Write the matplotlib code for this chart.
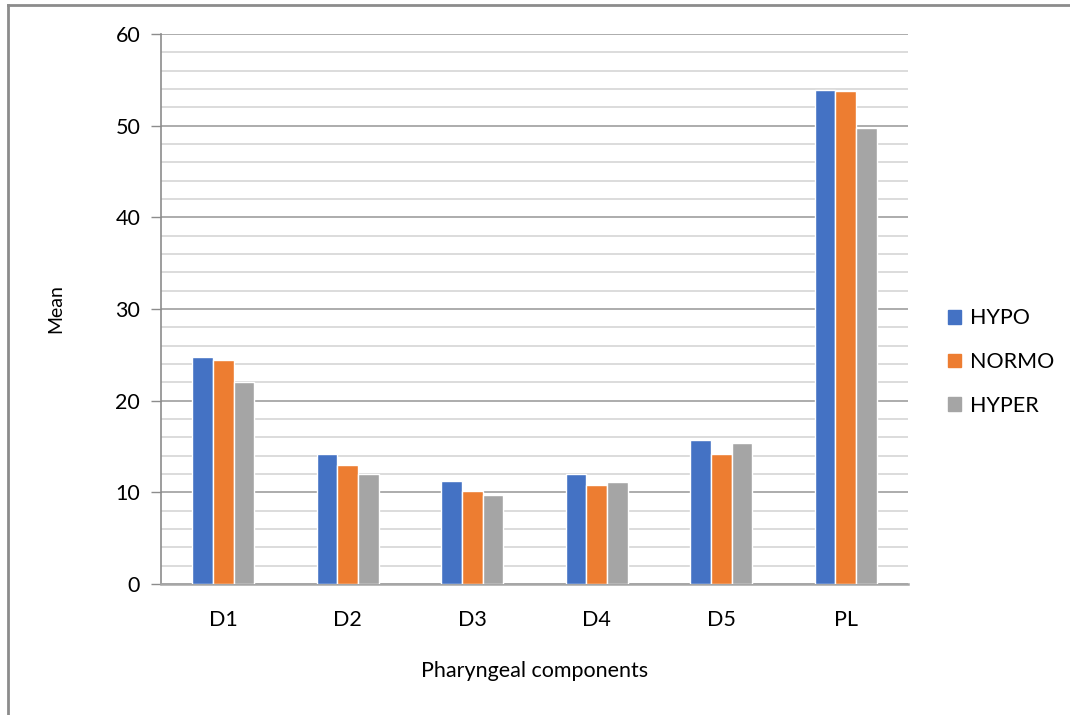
import numpy as np
import matplotlib.pyplot as plt
import matplotlib.patches as mpatches
from matplotlib.ticker import MultipleLocator

## data
categories = ["D1", "D2", "D3", "D4", "D5", "PL"]
hypo = [24.8, 14.2, 11.2, 12.0, 15.7, 53.9]
normo = [24.4, 13.0, 10.1, 10.8, 14.2, 53.8]
hyper = [22.0, 12.0, 9.7, 11.1, 15.4, 49.8]
series_names = ["HYPO", "NORMO", "HYPER"]
colors = ["#4472C4", "#ED7D31", "#A5A5A5"]

plt.rcParams['font.family'] = ['Lato', 'DejaVu Sans']

fig = plt.figure(figsize=(10.7, 7.15), dpi=100)
ax = fig.add_axes([161 / 1070, 1 - 584 / 715, (908 - 161) / 1070, (584 - 34) / 715])

# outer chart frame (top and left edges visible)
fig.add_artist(plt.Line2D([8 / 1070, 8 / 1070], [0, 1 - 5 / 715],
                          color="#8c8c8c", lw=2, transform=fig.transFigure))
fig.add_artist(plt.Line2D([8 / 1070, 1], [1 - 5 / 715, 1 - 5 / 715],
                          color="#8c8c8c", lw=2, transform=fig.transFigure))

x = np.arange(len(categories))
w = 0.165
for i, (vals, c) in enumerate(zip([hypo, normo, hyper], colors)):
    ax.bar(x + (i - 1) * w, vals, width=w, color=c, edgecolor="white",
           linewidth=1.0, zorder=3, label=series_names[i])

ax.set_xlim(-0.5, len(categories) - 0.5)
ax.set_ylim(0, 60)
ax.yaxis.set_major_locator(MultipleLocator(10))
ax.yaxis.set_minor_locator(MultipleLocator(2))
ax.grid(axis="y", which="major", color="#a6a6a6", lw=1.3, zorder=0)
ax.grid(axis="y", which="minor", color="#d9d9d9", lw=1.3, zorder=0)

fs = 15.5
ax.set_xticks(x)
ax.set_xticklabels(categories, fontsize=fs)
ax.tick_params(axis="x", length=0, pad=19)
ax.tick_params(axis="y", which="major", length=7, width=1, color="#8c8c8c",
               labelsize=fs, pad=8)
ax.tick_params(axis="y", which="minor", length=0)

for s in ["top", "right"]:
    ax.spines[s].set_visible(False)
ax.spines["left"].set_color("#8c8c8c")
ax.spines["left"].set_linewidth(1.2)
ax.spines["bottom"].set_color("#a6a6a6")
ax.spines["bottom"].set_linewidth(1.8)

ax.set_ylabel("Mean", fontsize=14, labelpad=37)
ax.set_xlabel("Pharyngeal components", fontsize=fs, labelpad=22)

handles = [mpatches.Patch(color=c, label=n) for c, n in zip(colors, series_names)]
fig.legend(handles=handles, loc="center left", bbox_to_anchor=(929 / 1070, 1 - 362 / 715),
           frameon=False, fontsize=fs, handlelength=0.6, handleheight=0.6,
           handletextpad=0.4, labelspacing=1.1)

plt.savefig("out.png", dpi=100)
